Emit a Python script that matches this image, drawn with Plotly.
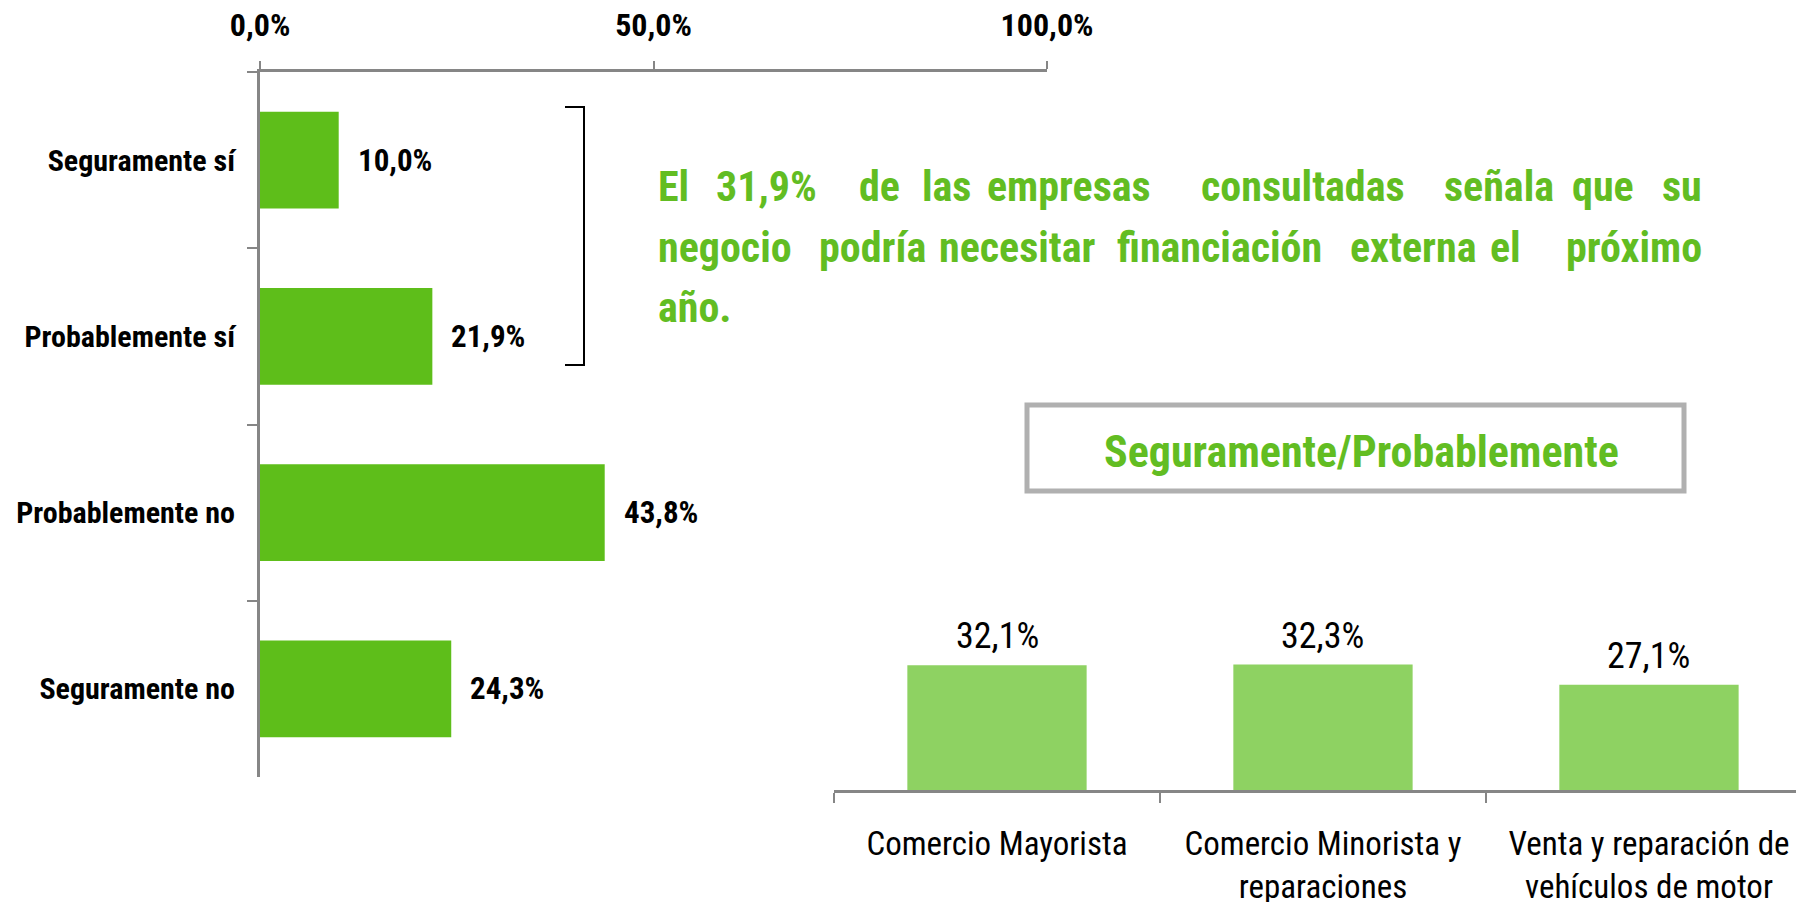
import plotly.graph_objects as go

W, H = 1796, 902

# encuesta: ¿necesitará financiación externa el próximo año?
respuestas = ["Seguramente sí", "Probablemente sí", "Probablemente no", "Seguramente no"]
porcentajes = [10.0, 21.9, 43.8, 24.3]
etiquetas = ["10,0%", "21,9%", "43,8%", "24,3%"]
eje_vals = [0, 50, 100]
eje_txt = ["0,0%", "50,0%", "100,0%"]

# seguramente/probablemente por sector
sectores = ["Comercio Mayorista", "Comercio Minorista y<br>reparaciones",
            "Venta y reparación de<br>vehículos de motor"]
sector_pct = [32.1, 32.3, 27.1]
sector_txt = ["32,1%", "32,3%", "27,1%"]

FONT = "Roboto Condensed, Roboto, sans-serif"
VERDE = "#5EBE1A"
VERDE_CLARO = "#8ED262"
VERDE_TXT = "#62BD22"
GRIS = "#868686"


def px(x):
    return x / W


def py(y):
    return 1 - y / H


fig = go.Figure()

fig.add_trace(go.Bar(x=porcentajes, y=respuestas, orientation="h", width=0.55,
                     marker=dict(color=VERDE, line=dict(width=0)),
                     xaxis="x", yaxis="y", hoverinfo="skip"))

fig.add_trace(go.Bar(x=sectores, y=sector_pct, width=0.55,
                     marker=dict(color=VERDE_CLARO, line=dict(width=0)),
                     xaxis="x2", yaxis="y2", hoverinfo="skip"))

anns = []
for r, v, t in zip(respuestas, porcentajes, etiquetas):
    anns.append(dict(x=v, y=r, xref="x", yref="y", text=t, showarrow=False,
                     xanchor="left", xshift=17,
                     font=dict(family=FONT, size=31, color="black", weight="bold")))
for s, v, t in zip(sectores, sector_pct, sector_txt):
    anns.append(dict(x=s, y=v, xref="x2", yref="y2", text=t, showarrow=False,
                     yanchor="bottom", yshift=6,
                     font=dict(family=FONT, size=36, color="black")))

# texto justificado: (palabra, izquierda, derecha) en px
lineas = [
    (187, [("El", 656, 686), ("31,9%", 711, 821), ("de", 858, 901), ("las", 926, 966),
           ("empresas", 993, 1145), ("consultadas", 1199, 1407), ("señala", 1453, 1544),
           ("que", 1576, 1629), ("su", 1659, 1704)]),
    (247, [("negocio", 656, 785), ("podría", 818, 927), ("necesitar", 957, 1077),
           ("financiación", 1107, 1332), ("externa", 1364, 1461), ("el", 1491, 1520),
           ("próximo", 1560, 1704)]),
    (307, [("año.", 656, 729)]),
]
for yl, palabras in lineas:
    n = len(palabras)
    for i, (w, x0, x1) in enumerate(palabras):
        if i == 0:
            xa, xx = "left", x0
        elif i == n - 1 and n > 1:
            xa, xx = "right", x1
        else:
            xa, xx = "center", (x0 + x1) / 2
        anns.append(dict(x=px(xx), y=py(yl), xref="paper", yref="paper", text=w,
                         showarrow=False, xanchor=xa, yanchor="middle",
                         font=dict(family=FONT, size=42, color=VERDE_TXT, weight="bold")))

anns.append(dict(x=px(1361), y=py(452), xref="paper", yref="paper",
                 text="Seguramente/Probablemente", showarrow=False,
                 xanchor="center", yanchor="middle",
                 font=dict(family=FONT, size=44, color=VERDE_TXT, weight="bold")))

shapes = [
    dict(type="rect", xref="paper", yref="paper", x0=px(1027), x1=px(1684),
         y0=py(491), y1=py(405), line=dict(color="#B0B0B0", width=5)),
    dict(type="path", xref="paper", yref="paper",
         path=f"M {px(565)},{py(107)} L {px(584)},{py(107)} L {px(584)},{py(365)} L {px(565)},{py(365)}",
         line=dict(color="black", width=2)),
]

fig.update_layout(
    width=W, height=H,
    margin=dict(l=0, r=0, t=0, b=0),
    paper_bgcolor="white", plot_bgcolor="white",
    showlegend=False,
    annotations=anns,
    shapes=shapes,
    xaxis=dict(domain=[px(260), px(1047)], range=[0, 100], side="top", anchor="y",
               tickvals=eje_vals, ticktext=eje_txt, showgrid=False, zeroline=False,
               showline=True, linecolor=GRIS, linewidth=3, automargin=False,
               ticks="outside", ticklen=8, tickwidth=2, tickcolor=GRIS,
               ticklabelstandoff=12,
               tickfont=dict(family=FONT, size=32, color="black", weight="bold")),
    yaxis=dict(domain=[py(777), py(72)], type="category", categoryorder="array",
               categoryarray=respuestas, range=[3.5, -0.5], anchor="x", automargin=False,
               showgrid=False, zeroline=False, showline=True, linecolor=GRIS, linewidth=3,
               ticks="outside", tickson="boundaries", ticklen=10, tickwidth=2, tickcolor=GRIS,
               ticklabelstandoff=16,
               tickfont=dict(family=FONT, size=30, color="black", weight="bold")),
    xaxis2=dict(domain=[px(834), 1], type="category", range=[-0.5, 2.451], anchor="y2",
                automargin=False, tickangle=0,
                showgrid=False, zeroline=False, showline=True, linecolor=GRIS, linewidth=3,
                ticks="outside", tickson="boundaries", ticklen=10, tickwidth=2, tickcolor=GRIS,
                ticklabelstandoff=22,
                tickfont=dict(family=FONT, size=33, color="black")),
    yaxis2=dict(domain=[py(790), py(557)], range=[0, 60], anchor="x2", visible=False),
)

fig.write_html("out.html", config={"displayModeBar": False},
               post_script="document.body.style.margin='0';")
